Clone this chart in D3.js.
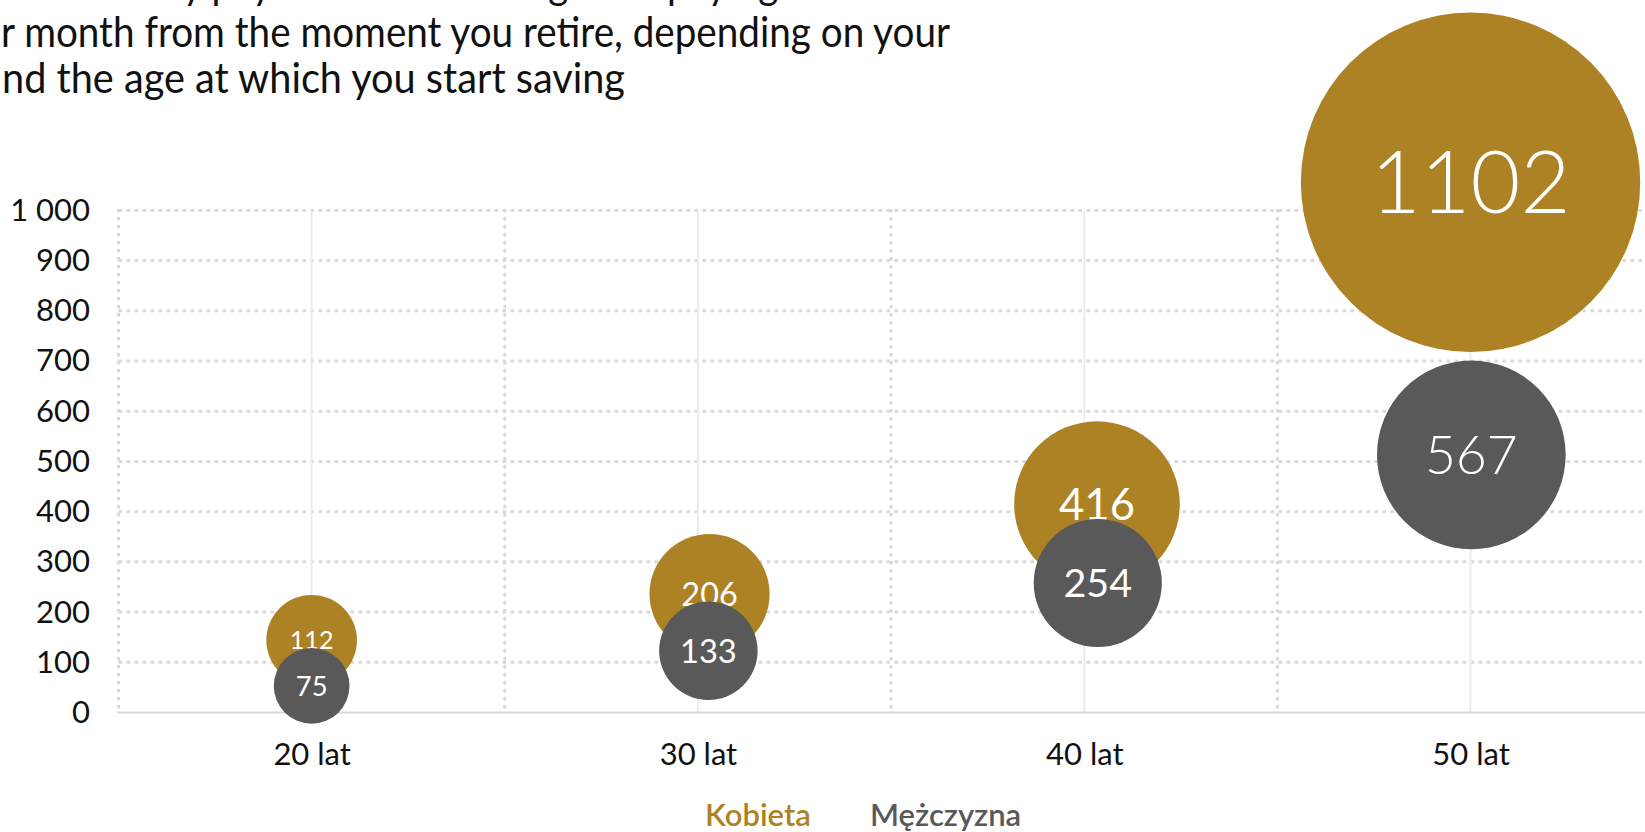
<!DOCTYPE html>
<html>
<head>
<meta charset="utf-8">
<script src="https://cdn.jsdelivr.net/npm/d3@7"></script>
<style>
  body { margin: 0; background: #fff; }
  svg { display: block; }
</style>
</head>
<body>
<script>
// data
const categories = ['20 lat', '30 lat', '40 lat', '50 lat'];
const ages = [20, 30, 40, 50];
const series = ['Kobieta', 'Mężczyzna'];

// value shown in the bubble
const kobietaValues = [112, 206, 416, 1102];
const mezczyznaValues = [75, 133, 254, 567];

// bubble position (age, y value) and bubble size
const kobietaX = [20, 30.3, 40.33, 50];
const mezczyznaX = [20, 30.27, 40.35, 50.02];
const kobietaY = [144, 236, 415, 1056];
const mezczyznaY = [53, 123, 258, 513];
const kobietaSize = [116, 204, 388, 1628];
const mezczyznaSize = [81, 137, 232, 503];

const yTicks = [0, 100, 200, 300, 400, 500, 600, 700, 800, 900, 1000];
const boundaries = [15, 25, 35, 45];

const titleLines = [
  'Extra monthly payments into savings and paying',
  'r month from the moment you retire, depending on your',
  'nd the age at which you start saving'
];

const width = 1645, height = 832;
const gold = '#ad8224', grey = '#595959';
const gridColor = '#d9d9d9';

let svg = d3.select('body').append('svg')
  .attr('width', width).attr('height', height);

const x = d3.scaleLinear().domain([15, 55]).range([118.5, 1663.7]);
const y = d3.scaleLinear().domain([0, 1000]).range([712.5, 210.4]);
const r = d3.scaleSqrt().domain([0, 1000]).range([0, 133]);

// title (cut off by the frame, as in the original)
const titleFont = 'Lato, "Open Sans", sans-serif';
const title = svg.append('g').attr('class', 'title');
title.append('text')
  .attr('x', -35).attr('y', -1)
  .text(titleLines[0]);
title.append('text')
  .attr('x', 1).attr('y', 46.5)
  .attr('textLength', 949).attr('lengthAdjust', 'spacingAndGlyphs')
  .text(titleLines[1]);
title.append('text')
  .attr('x', 2).attr('y', 93.3)
  .attr('textLength', 623).attr('lengthAdjust', 'spacingAndGlyphs')
  .text(titleLines[2]);
title.selectAll('text')
  .style('font-family', titleFont)
  .style('font-weight', 400)
  .style('font-size', '43px')
  .style('fill', '#111');

// scale the first line like the second one
const l1 = title.selectAll('text').nodes()[0];
const tmp = svg.append('text')
  .style('font-family', titleFont).style('font-weight', 400).style('font-size', '43px')
  .text(titleLines[1]);
const ratio = 949 / tmp.node().getComputedTextLength();
tmp.remove();
d3.select(l1).attr('textLength', l1.getComputedTextLength() * ratio).attr('lengthAdjust', 'spacingAndGlyphs');

// grid
const grid = svg.append('g');
grid.selectAll('.hgrid')
  .data(yTicks.filter(d => d > 0))
  .enter().append('line')
  .attr('x1', x(15)).attr('x2', width)
  .attr('y1', d => y(d)).attr('y2', d => y(d))
  .style('stroke', gridColor).style('stroke-width', 3)
  .style('stroke-dasharray', '3.5,4.5');

grid.selectAll('.vgrid')
  .data(boundaries)
  .enter().append('line')
  .attr('x1', d => x(d)).attr('x2', d => x(d))
  .attr('y1', y(1000) - 1.5).attr('y2', y(0))
  .style('stroke', gridColor).style('stroke-width', 3)
  .style('stroke-dasharray', '3.5,4.5');

grid.selectAll('.cgrid')
  .data(ages)
  .enter().append('line')
  .attr('x1', d => x(d)).attr('x2', d => x(d))
  .attr('y1', y(1000)).attr('y2', y(0))
  .style('stroke', '#ececec').style('stroke-width', 2);

grid.append('line')
  .attr('x1', x(15) - 1.5).attr('x2', width)
  .attr('y1', y(0)).attr('y2', y(0))
  .style('stroke', gridColor).style('stroke-width', 2);

// axes
const fmt = d3.formatLocale({ decimal: ',', thousands: ' ', grouping: [3], currency: ['', ' zł'] }).format(',d');

const yaxis = svg.append('g')
  .attr('transform', `translate(${x(15)}, 0)`)
  .call(d3.axisLeft(y).tickValues(yTicks).tickSize(0).tickPadding(28.5).tickFormat(fmt));

const xaxis = svg.append('g')
  .attr('transform', `translate(0, ${y(0)})`)
  .call(d3.axisBottom(x).tickValues(ages).tickSize(0).tickPadding(30)
    .tickFormat((d, i) => categories[i]));

svg.selectAll('.domain').remove();
svg.selectAll('.tick text')
  .style('font-family', 'Lato, "Open Sans", sans-serif')
  .style('font-size', '31px')
  .style('fill', '#111');

// bubbles
const bubbleData = [
  { name: series[0], color: gold, xs: kobietaX, ys: kobietaY, sizes: kobietaSize, values: kobietaValues, fs: rr => 0.49 * rr + 3 },
  { name: series[1], color: grey, xs: mezczyznaX, ys: mezczyznaY, sizes: mezczyznaSize, values: mezczyznaValues, fs: rr => 0.46 * rr + 10 }
];

ages.forEach((a, i) => {
  bubbleData.forEach(s => {
    const g = svg.append('g')
      .attr('transform', `translate(${x(s.xs[i])}, ${y(s.ys[i])})`);
    const rr = r(s.sizes[i]);
    const fs = s.fs(rr);
    g.append('circle')
      .attr('r', rr)
      .style('fill', s.color);
    g.append('text')
      .attr('dy', '0.36em')
      .attr('text-anchor', 'middle')
      .style('font-family', 'Lato, "Open Sans", sans-serif')
      .style('font-weight', fs > 45 ? 300 : 400)
      .style('font-size', fs + 'px')
      .style('fill', '#fff')
      .text(s.values[i]);
  });
});

// legend
const legend = svg.append('g');
legend.append('text')
  .attr('x', 705).attr('y', 826)
  .style('fill', gold)
  .text(series[0]);
legend.append('text')
  .attr('x', 870).attr('y', 826)
  .style('fill', grey)
  .text(series[1]);
legend.selectAll('text')
  .style('font-family', 'Lato, "Open Sans", sans-serif')
  .style('font-size', '31px')
  .style('font-weight', 600);
</script>
</body>
</html>
